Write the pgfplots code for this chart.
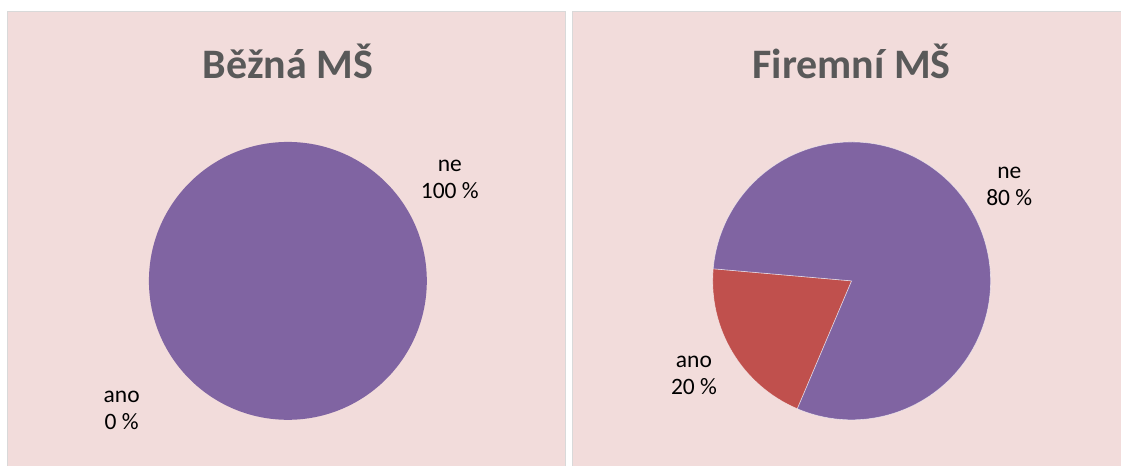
\documentclass[border=0pt]{standalone}
\usepackage{pgfplots}
\pgfplotsset{compat=1.18}
\usepackage{pgfplotstable}
\usepackage{fontspec}
\setmainfont{Carlito}
\usetikzlibrary{calc}

\definecolor{bg}{HTML}{F2DCDB}
\definecolor{frame}{HTML}{D9D9D9}
\definecolor{titlegray}{HTML}{595959}
\definecolor{ano}{HTML}{C0504D}
\definecolor{ne}{HTML}{8064A2}

% podily v procentech, uhel a vzdalenost popisku
\pgfplotstableread{
label value langle ldist
ano 0   218 211
ne  100 32  191
}\bezna
\pgfplotstableread{
label value langle ldist
ano 20 211 184
ne  80 31  184
}\firemni

\tikzset{
  slice0/.style={fill=ano},
  slice1/.style={fill=ne},
  lbl/.style={align=center, font=\fontsize{23.5}{27}\selectfont, text=black, inner sep=0pt},
}

% #1 tabulka, #2 pocatecni uhel
\newcommand\drawpie[2]{%
  \pgfplotstablegetrowsof{#1}%
  \pgfmathtruncatemacro\nrows{\pgfplotsretval-1}%
  \xdef\angA{#2}%
  \foreach \i in {0,...,\nrows}{%
    \pgfplotstablegetelem{\i}{value}\of{#1}\let\val\pgfplotsretval
    \pgfplotstablegetelem{\i}{label}\of{#1}\let\lab\pgfplotsretval
    \pgfplotstablegetelem{\i}{langle}\of{#1}\let\la\pgfplotsretval
    \pgfplotstablegetelem{\i}{ldist}\of{#1}\let\ld\pgfplotsretval
    \pgfmathsetmacro\angB{\angA+3.6*\val}%
    \ifdim\val pt>0pt
      \ifdim\val pt<100pt
        \filldraw[slice\i, draw=white, draw opacity=0.6, line width=0.6pt]
          (axis cs:0,0) -- ++(\angA:139pt)
          arc[start angle=\angA, end angle=\angB, radius=139pt] -- cycle;
      \else
        \fill[slice\i] (axis cs:0,0) circle[radius=139pt];
      \fi
    \fi
    \node[lbl] at ($(axis cs:0,0)+(\la:\ld pt)$) {\lab\\\val~\%};
    \xdef\angA{\angB}%
  }%
}

\pgfplotsset{
  piestyle/.style={
    hide axis, clip=false, scale only axis, width=278pt, height=278pt,
    xmin=-1, xmax=1, ymin=-1, ymax=1, anchor=center,
  },
}

\begin{document}
\begin{tikzpicture}[x=1pt, y=1pt]
\path (0,0) rectangle (1121,466);
% panely
\fill[bg] (8,0) rectangle (566,454);
\draw[frame, line width=1pt] (8,0) -- (8,454) -- (566,454) -- (566,0);
\fill[bg] (573,0) rectangle (1121,454);
\draw[frame, line width=1pt] (573,0) -- (573,454) -- (1121,454);
% nadpisy
\node[text=titlegray, font=\fontsize{42}{50}\selectfont\bfseries] at (288,405) {Běžná MŠ};
\node[text=titlegray, font=\fontsize{42}{50}\selectfont\bfseries] at (852,405) {Firemní MŠ};

\begin{axis}[piestyle, at={(288pt,185pt)}]
\pgfplotsextra{\drawpie{\bezna}{213}}
\end{axis}

\begin{axis}[piestyle, at={(852pt,185pt)}]
\pgfplotsextra{\drawpie{\firemni}{175}}
\end{axis}
\end{tikzpicture}
\end{document}
